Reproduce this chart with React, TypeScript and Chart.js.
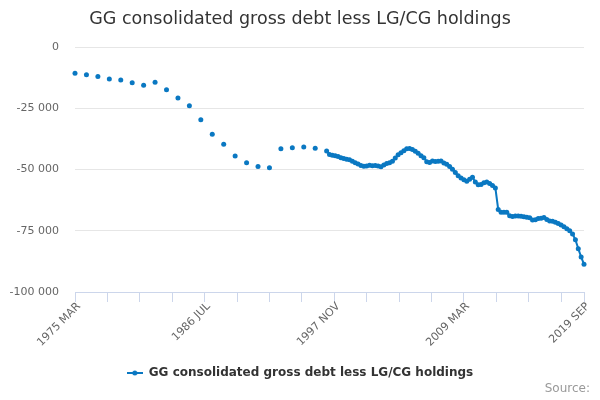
import React, { useEffect, useRef } from "react";
import { Chart, registerables } from "chart.js";

Chart.register(...registerables);

const TITLE = "GG consolidated gross debt less LG/CG holdings";
const SERIES_NAME = "GG consolidated gross debt less LG/CG holdings";
const SOURCE_TEXT = "Source:";
const SERIES_COLOR = "#0a78c2";
const FONT = "'DejaVu Sans', Verdana, sans-serif";

const MONTHS = ["JAN", "FEB", "MAR", "APR", "MAY", "JUN", "JUL", "AUG", "SEP", "OCT", "NOV", "DEC"];
const START_LABEL = "1975 MAR";
const END_LABEL = "2019 SEP";
const xTickLabels = ["1975 MAR", "1986 JUL", "1997 NOV", "2009 MAR", "2019 SEP"];
const yTicks = [0, -25000, -50000, -75000, -100000];

// annual readings, March 1975 .. March 1996
const annualValues = [
  -10700, -11300, -12000, -13100, -13500, -14600, -15600, -14400, -17400, -20800, -24000,
  -29700, -35600, -39700, -44500, -47200, -48800, -49300, -41500, -41100, -40800, -41300,
];

// quarterly readings, March 1997 .. September 2019
const quarterlyStart = "1997 MAR";
const quarterlyValues = [
  -42400, -43900, -44200, -44400, -44700, -45200, -45500, -45800, -46000, -46600,
  -47200, -47800, -48400, -48700, -48600, -48300, -48500, -48400, -48600, -48900,
  -48200, -47500, -47200, -46600, -45300, -44000, -43200, -42300, -41500, -41400,
  -41800, -42500, -43400, -44400, -45200, -46800, -47100, -46500, -46700, -46600,
  -46500, -47300, -47900, -48800, -49900, -51200, -52600, -53500, -54200, -54800,
  -54000, -53200, -55100, -56200, -56100, -55400, -55100, -55700, -56500, -57500,
  -66300, -67400, -67400, -67400, -68900, -69200, -69000, -69000, -69100, -69300,
  -69500, -69700, -70600, -70500, -70000, -69900, -69600, -70400, -71000, -71100,
  -71500, -72000, -72700, -73400, -74200, -75000, -76300, -78700, -82300, -85700,
  -88700,
];

// months since START_LABEL
function monthOffset(label: string) {
  const [y, m] = label.split(" ");
  const [y0, m0] = START_LABEL.split(" ");
  return (Number(y) - Number(y0)) * 12 + MONTHS.indexOf(m) - MONTHS.indexOf(m0);
}

function monthLabel(offset: number) {
  const m0 = MONTHS.indexOf(START_LABEL.split(" ")[1]);
  const y0 = Number(START_LABEL.split(" ")[0]);
  const total = m0 + offset;
  return `${y0 + Math.floor(total / 12)} ${MONTHS[total % 12]}`;
}

function formatThousands(v: number) {
  const s = String(Math.abs(v)).replace(/\B(?=(\d{3})+(?!\d))/g, " ");
  return v < 0 ? `-${s}` : s;
}

function legendSymbol() {
  const c = document.createElement("canvas");
  c.width = 16;
  c.height = 6;
  const g = c.getContext("2d")!;
  g.strokeStyle = SERIES_COLOR;
  g.lineWidth = 2;
  g.beginPath();
  g.moveTo(0, 3);
  g.lineTo(16, 3);
  g.stroke();
  g.fillStyle = SERIES_COLOR;
  g.beginPath();
  g.arc(8, 3, 2.5, 0, Math.PI * 2);
  g.fill();
  return c;
}

// "Source:" credit in the bottom right corner
const sourcePlugin = {
  id: "sourceCredit",
  afterDraw(chart: Chart) {
    const { ctx, width } = chart;
    ctx.save();
    ctx.font = `12px ${FONT}`;
    ctx.fillStyle = "#999999";
    ctx.textAlign = "right";
    ctx.textBaseline = "middle";
    ctx.fillText(SOURCE_TEXT, width - 10, 389);
    ctx.restore();
  },
};

export default function App() {
  const canvasRef = useRef<HTMLCanvasElement | null>(null);
  const chartRef = useRef<Chart | null>(null);

  useEffect(() => {
    if (!canvasRef.current) return;
    const ctx = canvasRef.current.getContext("2d");
    if (!ctx) return;
    if (chartRef.current) chartRef.current.destroy();

    const qStart = monthOffset(quarterlyStart);
    const points = [
      ...annualValues.map((v, i) => ({ x: i * 12, y: v })),
      ...quarterlyValues.map((v, i) => ({ x: qStart + i * 3, y: v })),
    ];
    const last = monthOffset(END_LABEL);
    const labelled = xTickLabels.map(monthOffset);
    const tickStep = labelled[1] / 4;

    chartRef.current = new Chart(ctx, {
      type: "line",
      data: {
        datasets: [
          {
            label: SERIES_NAME,
            data: points,
            borderColor: SERIES_COLOR,
            backgroundColor: SERIES_COLOR,
            borderWidth: 2,
            pointRadius: 2.5,
            pointBorderWidth: 0,
            pointBackgroundColor: SERIES_COLOR,
            tension: 0,
            spanGaps: 6,
            clip: false,
          },
        ],
      },
      options: {
        animation: false,
        responsive: true,
        maintainAspectRatio: false,
        layout: { padding: { left: 10, right: 10, top: 0, bottom: 11 } },
        plugins: {
          title: {
            display: true,
            text: TITLE,
            color: "#333333",
            font: { family: FONT, size: 17.5, weight: "normal" },
            padding: { top: 9, bottom: 17 },
          },
          legend: {
            position: "bottom",
            labels: {
              usePointStyle: true,
              pointStyle: legendSymbol(),
              pointStyleWidth: 16,
              boxHeight: 12,
              padding: 10,
              color: "#333333",
              font: { family: FONT, size: 12, weight: "bold" },
            },
          },
          tooltip: { enabled: false },
        },
        scales: {
          x: {
            type: "linear",
            min: 0,
            max: last,
            afterBuildTicks: (scale) => {
              const ticks = [];
              for (let v = 0; v < last; v += tickStep) ticks.push({ value: v });
              ticks.push({ value: last });
              scale.ticks = ticks;
            },
            afterFit: (scale) => {
              scale.height = 65;
            },
            grid: {
              drawOnChartArea: false,
              drawTicks: true,
              tickLength: 10,
              tickColor: "#ccd6eb",
            },
            border: { color: "#ccd6eb" },
            ticks: {
              autoSkip: false,
              minRotation: 45,
              maxRotation: 45,
              padding: -2,
              labelOffset: 4,
              color: "#666666",
              font: { family: FONT, size: 11 },
              callback: (v) => (labelled.includes(Number(v)) ? monthLabel(Number(v)) : ""),
            },
          },
          y: {
            min: yTicks[yTicks.length - 1],
            max: yTicks[0],
            afterBuildTicks: (scale) => {
              scale.ticks = yTicks.map((v) => ({ value: v }));
            },
            afterFit: (scale) => {
              scale.width = 65;
            },
            grid: { color: "#e6e6e6", drawTicks: false },
            border: { display: false },
            ticks: {
              padding: 16,
              color: "#666666",
              font: { family: FONT, size: 11 },
              callback: (v) => formatThousands(Number(v)),
            },
          },
          // empty right-hand axis so the plot ends where the reference's does
          yRight: {
            position: "right",
            afterFit: (scale) => {
              scale.width = 6;
            },
            ticks: { display: false },
            grid: { display: false },
            border: { display: false },
          },
        },
      },
      plugins: [sourcePlugin],
    });

    return () => {
      if (chartRef.current) {
        chartRef.current.destroy();
        chartRef.current = null;
      }
    };
  }, []);

  return (
    <div style={{ position: "absolute", left: 0, top: 0, width: 600, height: 400 }}>
      <canvas ref={canvasRef} />
    </div>
  );
}
